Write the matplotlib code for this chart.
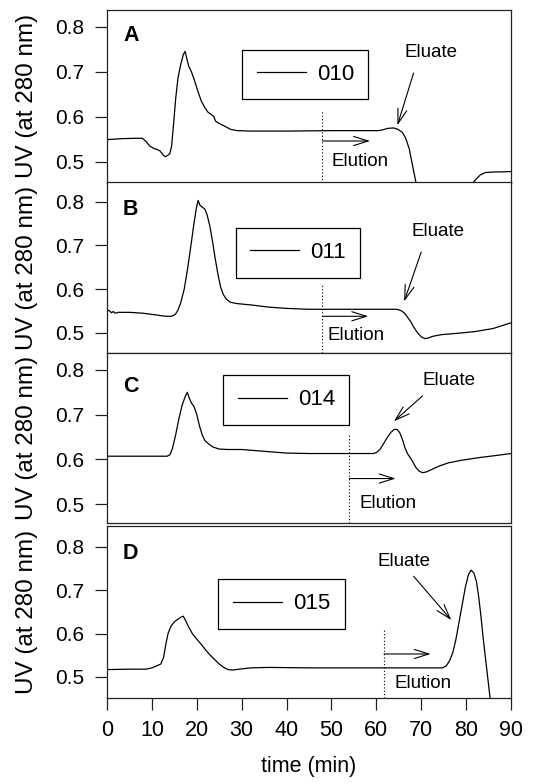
import matplotlib
matplotlib.use("Agg")
import matplotlib.pyplot as plt

plt.rcParams['font.family'] = ['Liberation Sans', 'DejaVu Sans']

# ---------------- data ----------------
panel_letters = ["A", "B", "C", "D"]
run_labels = ["010", "011", "014", "015"]

time_a = [0, 3, 6, 7.9, 8.7, 9.5, 10.3, 11.2, 11.8, 12.5, 13.0, 13.5, 14.0, 14.4, 14.8, 15.3,
          15.8, 16.4, 17.0, 17.4, 17.8, 18.2, 18.8, 19.5, 20.3, 21.0, 21.8, 22.5, 23.2, 23.8,
          24.2, 24.8, 26, 27.5, 29, 32, 40, 50, 58, 60.5, 61.5, 62.5, 63.8, 64.8, 65.8, 66.5,
          67.3, 68.0, 68.8, 69.5, 75, 80, 81.5, 82.3, 83.2, 84.3, 86, 90]
uv_a = [0.549, 0.551, 0.552, 0.552, 0.545, 0.535, 0.530, 0.527, 0.524, 0.515, 0.511, 0.514,
        0.518, 0.535, 0.580, 0.640, 0.685, 0.715, 0.738, 0.745, 0.728, 0.712, 0.700, 0.680,
        0.655, 0.635, 0.620, 0.610, 0.605, 0.600, 0.590, 0.586, 0.580, 0.572, 0.569, 0.568,
        0.568, 0.569, 0.569, 0.569, 0.571, 0.574, 0.575, 0.572, 0.565, 0.553, 0.530, 0.495,
        0.455, 0.420, 0.400, 0.420, 0.453, 0.462, 0.471, 0.476, 0.477, 0.478]

time_b = [0, 0.6, 1.0, 1.4, 1.8, 2.5, 5, 8, 11, 13, 14.4, 15.2, 15.8, 16.4, 17.2, 18.0, 18.7,
          19.3, 19.9, 20.3, 20.7, 21.2, 21.8, 22.3, 22.9, 23.5, 24.1, 24.7, 25.3, 25.9, 26.6,
          27.5, 29, 32, 36, 40, 45, 55, 64.5, 65.5, 66.3, 67.0, 67.7, 68.4, 69.2, 70.0, 70.8,
          71.5, 72.5, 74.5, 78, 82, 86, 90]
uv_b = [0.553, 0.550, 0.546, 0.549, 0.545, 0.547, 0.547, 0.545, 0.541, 0.538, 0.538, 0.542,
        0.552, 0.568, 0.600, 0.650, 0.700, 0.745, 0.785, 0.803, 0.792, 0.788, 0.783, 0.770,
        0.745, 0.710, 0.670, 0.635, 0.605, 0.588, 0.577, 0.570, 0.567, 0.564, 0.559, 0.556,
        0.554, 0.554, 0.554, 0.551, 0.545, 0.535, 0.525, 0.512, 0.500, 0.491, 0.487, 0.488,
        0.492, 0.496, 0.499, 0.503, 0.510, 0.523]

time_c = [0, 13.4, 14.0, 14.6, 15.3, 16.0, 16.7, 17.4, 17.9, 18.3, 18.8, 19.4, 20.0, 20.6,
          21.2, 21.8, 22.6, 23.5, 25, 27, 30, 35, 40, 45, 55, 59.3, 60.0, 60.8, 61.6, 62.4,
          63.2, 64.0, 64.6, 65.2, 65.8, 66.4, 67.0, 67.6, 68.2, 68.8, 69.5, 70.3, 71.2, 72.5,
          74, 76, 79, 83, 87, 90]
uv_c = [0.607, 0.607, 0.610, 0.625, 0.655, 0.690, 0.720, 0.740, 0.750, 0.738, 0.726, 0.718,
        0.700, 0.675, 0.655, 0.642, 0.635, 0.628, 0.623, 0.622, 0.622, 0.618, 0.614, 0.613,
        0.613, 0.613, 0.615, 0.622, 0.635, 0.648, 0.660, 0.667, 0.667, 0.660, 0.645, 0.625,
        0.612, 0.603, 0.593, 0.582, 0.574, 0.570, 0.572, 0.578, 0.585, 0.592, 0.598, 0.604,
        0.609, 0.613]

time_d = [0, 5, 8.7, 10, 11.2, 12.0, 12.6, 13.1, 13.6, 14.2, 15.0, 15.8, 16.5, 17.0, 17.5,
          18.2, 19.0, 20.0, 21.0, 22.0, 23.0, 24.0, 25.0, 26.0, 27.0, 28.0, 29.5, 32, 36, 45,
          60, 74.8, 75.6, 76.3, 77.0, 77.7, 78.4, 79.1, 79.8, 80.5, 81.1, 81.7, 82.3, 82.8,
          83.3, 83.8, 84.3, 84.8, 85.3, 85.6, 86]
uv_d = [0.517, 0.518, 0.518, 0.521, 0.526, 0.530, 0.545, 0.575, 0.600, 0.616, 0.627, 0.633,
        0.638, 0.640, 0.630, 0.615, 0.600, 0.587, 0.575, 0.562, 0.550, 0.540, 0.530, 0.522,
        0.517, 0.516, 0.518, 0.521, 0.522, 0.521, 0.521, 0.521, 0.526, 0.537, 0.555, 0.585,
        0.625, 0.665, 0.705, 0.735, 0.746, 0.740, 0.720, 0.685, 0.640, 0.590, 0.545, 0.500,
        0.455, 0.430, 0.400]

times = [time_a, time_b, time_c, time_d]
uvs = [uv_a, uv_b, uv_c, uv_d]

elution_start = [48.0, 48.0, 54.0, 61.7]       # min
dotted_top = [0.612, 0.615, 0.655, 0.613]
elution_arrow_end = [58.6, 58.2, 64.3, 72.1]
elution_arrow_y = [0.546, 0.538, 0.557, 0.553]
elution_text_xy = [(50.0, 0.500), (49.2, 0.493), (56.2, 0.502), (64.0, 0.486)]
eluate_text_xy = [(66.2, 0.743), (67.9, 0.732), (70.3, 0.776), (60.2, 0.767)]
eluate_arrow = [((68.3, 0.697), (64.7, 0.581)),
                ((70.0, 0.685), (66.2, 0.572)),
                ((70.3, 0.742), (63.9, 0.685)),
                ((68.3, 0.732), (76.7, 0.631))]

yticks = [0.5, 0.6, 0.7, 0.8]
xticks = [0, 10, 20, 30, 40, 50, 60, 70, 80, 90]

# ---------------- layout ----------------
W, H = 533, 784
fig = plt.figure(figsize=(W / 100, H / 100), dpi=100)
left, right = 107 / W, 511 / W
rows = [(10, 182.5), (182.5, 353), (353, 523), (526, 698)]
ylims = [(0.4538, 0.837), (0.454, 0.844), (0.4575, 0.838), (0.4516, 0.8477)]
letter_y = [0.852, 0.842, 0.803, 0.843]
legend_pos = [(0.491, 0.626), (0.473, 0.588), (0.444, 0.724), (0.432, 0.547)]

for i in range(4):
    top, bot = rows[i]
    ax = fig.add_axes([left, 1 - bot / H, right - left, (bot - top) / H])
    ax.plot(times[i], uvs[i], color='black', lw=0.9, label=run_labels[i])
    ax.set_xlim(0, 90)
    ax.set_ylim(*ylims[i])
    ax.set_yticks(yticks)
    ax.set_yticklabels([f"{v:.1f}" for v in yticks])
    for s in ax.spines.values():
        s.set_linewidth(0.9)
        s.set_color('#222222')
    ax.tick_params(axis='y', direction='out', length=8.5, width=0.9, pad=8,
                   labelsize=15, color='#222222')
    if i < 3:
        ax.set_xticks([])
    else:
        ax.set_xticks(xticks)
        ax.tick_params(axis='x', direction='out', length=8.5, width=0.9, pad=7,
                       labelsize=15.5, color='#222222')
        ax.set_xlabel("time (min)", fontsize=15.5)
        ax.xaxis.set_label_coords(0.5, -0.335)
        ax.xaxis.label.set_verticalalignment('top')
    ax.set_ylabel("UV (at 280 nm)", fontsize=17.5)
    ax.yaxis.set_label_coords(-0.17, 0.5)

    ax.text(0.059, letter_y[i], panel_letters[i], transform=ax.transAxes,
            fontsize=15.5, fontweight='bold', ha='center', va='center')

    leg = ax.legend(loc='center', bbox_to_anchor=legend_pos[i], fontsize=16,
                    frameon=True, fancybox=False, edgecolor='black', framealpha=1,
                    handlelength=2.2, handletextpad=0.5, borderpad=0.65)
    leg.get_frame().set_linewidth(0.9)

    # elution start
    ax.plot([elution_start[i], elution_start[i]], [ylims[i][0], dotted_top[i]],
            color='black', lw=0.8, linestyle=(0, (1, 2)))
    ax.annotate("", xy=(elution_arrow_end[i], elution_arrow_y[i]),
                xytext=(elution_start[i], elution_arrow_y[i]),
                arrowprops=dict(arrowstyle='->,head_length=0.7,head_width=0.22',
                                lw=0.8, color='black', mutation_scale=15,
                                shrinkA=0, shrinkB=0))
    ax.text(*elution_text_xy[i], "Elution", fontsize=13.5, ha='left', va='center')
    ax.text(*eluate_text_xy[i], "Eluate", fontsize=13.5, ha='left', va='center')
    (sx, sy), (ex, ey) = eluate_arrow[i]
    ax.annotate("", xy=(ex, ey), xytext=(sx, sy),
                arrowprops=dict(arrowstyle='->,head_length=0.7,head_width=0.22',
                                lw=0.8, color='black', mutation_scale=15,
                                shrinkA=0, shrinkB=0))

fig.savefig("out.png", dpi=100)
